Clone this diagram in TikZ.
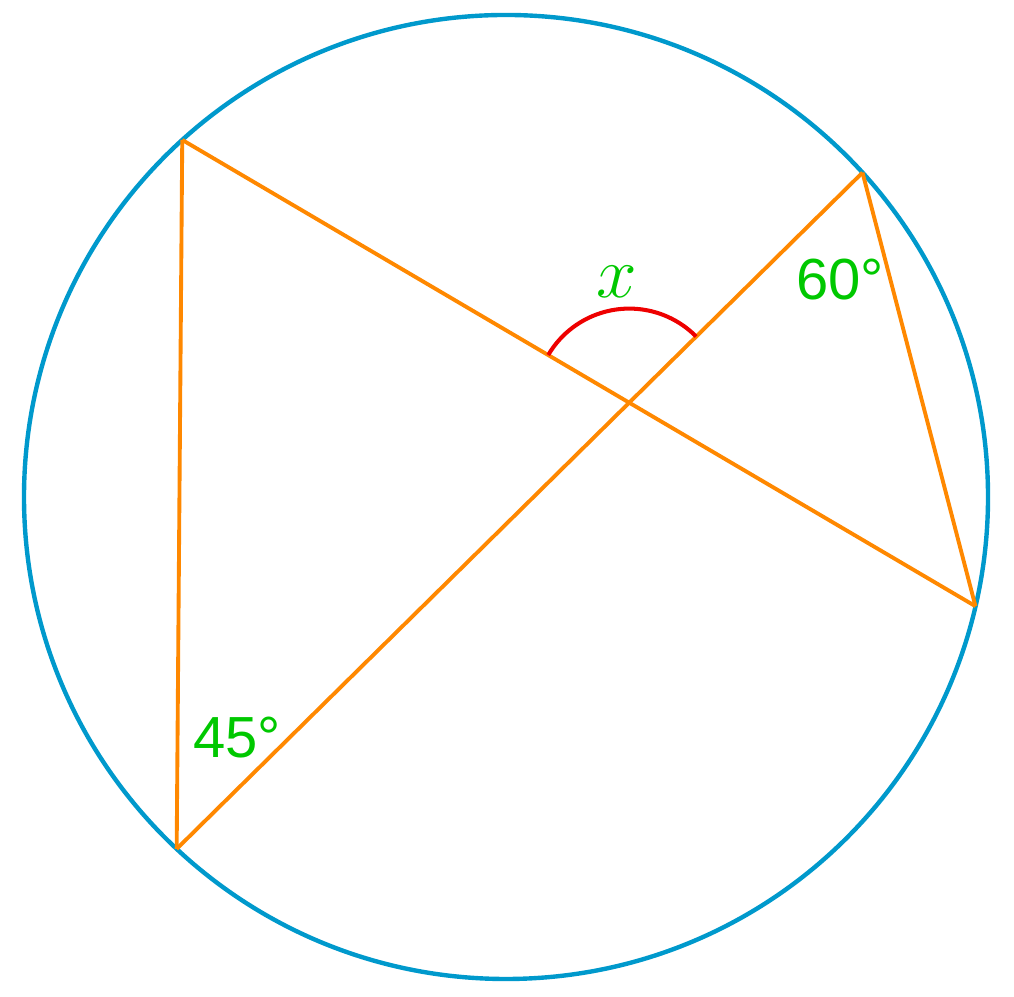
\documentclass[tikz,border=0pt]{standalone}
\usepackage{fontspec}
\setmainfont{Liberation Sans}
\usepackage{xcolor}
\usetikzlibrary{calc}
\definecolor{circblue}{RGB}{0,153,204}
\definecolor{chordorange}{RGB}{255,136,0}
\definecolor{labgreen}{RGB}{0,200,0}
\definecolor{arcred}{RGB}{238,0,0}

\begin{document}
\begin{tikzpicture}[-,semithick]
 \tikzstyle{rim}=[draw=circblue, line width=1.25pt]
 \tikzstyle{chord}=[draw=chordorange, line width=1.1pt]
 \tikzstyle{anglearc}=[draw=arcred, line width=1.15pt]
 \tikzstyle{lab}=[text=labgreen, inner sep=0pt, font=\fontsize{16.5}{19}\selectfont]
 \useasboundingbox (0,0) rectangle (10.14,9.97);
  \coordinate (O) at (5.06,5.00);
  \coordinate (A) at ($(O)+(132.2:4.82)$);
  \coordinate (B) at ($(O)+(42.3:4.82)$);
  \coordinate (C) at ($(O)+(-13.1:4.82)$);
  \coordinate (D) at ($(O)+(226.9:4.82)$);
  \coordinate (P) at (intersection of A--C and D--B);
  \draw[rim] (O) circle (4.82);
  \path[chord]
        (A) edge (D)
        (A) edge (C)
        (D) edge (B)
        (B) edge (C);
  \draw[anglearc] ($(P)+(44.7:0.94)$) arc (44.7:149.6:0.94);
  \node[lab, font=\fontsize{20}{24}\selectfont] (X) at (6.17,7.15) {$x$};
  \node[lab] (S) at (8.40,7.17) {60°};
  \node[lab] (F) at (2.37,2.59) {45°};
\end{tikzpicture}
\end{document}
